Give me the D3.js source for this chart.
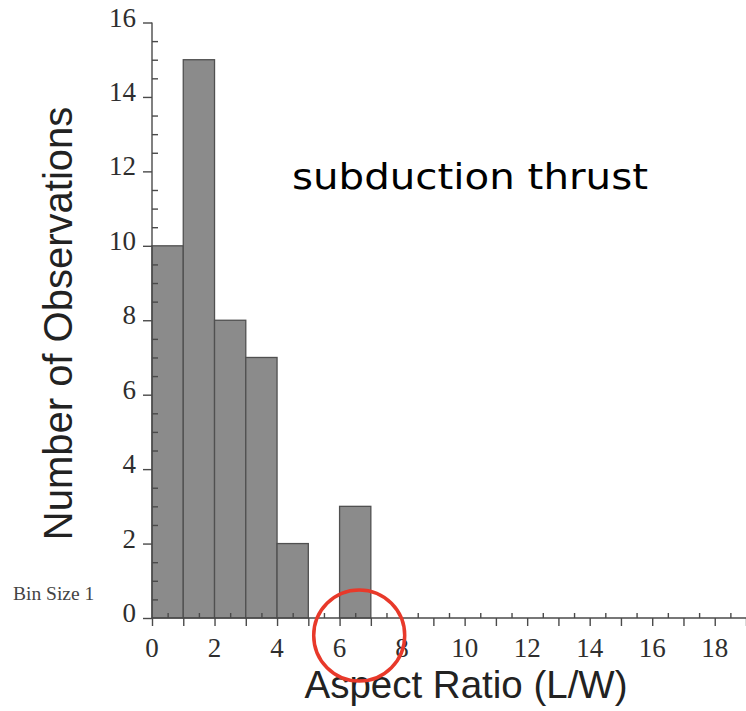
<!DOCTYPE html>
<html>
<head>
<meta charset="utf-8">
<script src="https://cdn.jsdelivr.net/npm/d3@7"></script>
<style>
  html, body { margin: 0; padding: 0; background: #fff; }
  svg { display: block; }
</style>
</head>
<body>
<svg id="chart" width="746" height="711"></svg>
<script>
// Histogram of rupture aspect ratios, bin width 1
const binStarts = [0, 1, 2, 3, 4, 5, 6];
const counts    = [10, 15, 8, 7, 2, 0, 3];
const xTickLabels = [0, 2, 4, 6, 8, 10, 12, 14, 16, 18];
const yTickLabels = [0, 2, 4, 6, 8, 10, 12, 14, 16];
const binSize = 1;

const svg = d3.select("#chart");

const x = d3.scaleLinear().domain([0, 19]).range([152, 746]);
const y = d3.scaleLinear().domain([0, 16]).range([618, 22.5]);

const axisColor = "#4a4a4a";
const labelColor = "#2e2e2e";

// bars
svg.append("g")
  .selectAll("rect")
  .data(binStarts.map((b, i) => ({ b, c: counts[i] })).filter(d => d.c > 0))
  .join("rect")
  .attr("x", d => x(d.b))
  .attr("width", d => x(d.b + binSize) - x(d.b))
  .attr("y", d => y(d.c))
  .attr("height", d => y(0) - y(d.c))
  .attr("fill", "#8b8b8b")
  .attr("stroke", "#505050")
  .attr("stroke-width", 1.3);

// x axis: outward ticks on integers, inward ticks on half steps
const xMajor = d3.range(0, 20, 1);
const xMinor = d3.range(0.5, 19, 1);
const xAxis = svg.append("g").attr("transform", `translate(0,${y(0)})`);
xAxis.call(d3.axisBottom(x).tickValues(xMajor).tickSize(8).tickFormat(""))
  .call(g => g.select(".domain").remove());
xAxis.append("g").call(d3.axisTop(x).tickValues(xMinor).tickSize(5).tickFormat(""))
  .call(g => g.select(".domain").remove());
xAxis.append("line")
  .attr("x1", x(0)).attr("x2", 746)
  .attr("y1", 0).attr("y2", 0);
xAxis.selectAll("line").attr("stroke", axisColor).attr("stroke-width", 1.4);

xAxis.append("g").selectAll("text")
  .data(xTickLabels)
  .join("text")
  .attr("x", d => x(d))
  .attr("y", 39)
  .attr("text-anchor", "middle")
  .attr("font-family", "'Liberation Serif', 'Times New Roman', serif")
  .attr("font-size", 27)
  .attr("fill", labelColor)
  .text(d => d);

// y axis: outward ticks on even values, inward ticks every half unit
const yMinor = d3.range(0.5, 16, 0.5).filter(v => v % 2 !== 0);
const yAxis = svg.append("g").attr("transform", `translate(${x(0)},0)`);
yAxis.call(d3.axisLeft(y).tickValues(yTickLabels).tickSize(9).tickFormat(""))
  .call(g => g.select(".domain").remove());
yAxis.append("g").call(d3.axisRight(y).tickValues(yMinor).tickSize(6).tickFormat(""))
  .call(g => g.select(".domain").remove());
yAxis.append("line")
  .attr("x1", 0).attr("x2", 0)
  .attr("y1", y(16)).attr("y2", y(0));
yAxis.selectAll("line").attr("stroke", axisColor).attr("stroke-width", 1.4);

yAxis.append("g").selectAll("text")
  .data(yTickLabels)
  .join("text")
  .attr("x", -16)
  .attr("y", d => y(d) + 4)
  .attr("text-anchor", "end")
  .attr("font-family", "'Liberation Serif', 'Times New Roman', serif")
  .attr("font-size", 27)
  .attr("fill", labelColor)
  .text(d => d);

// axis titles
svg.append("text")
  .attr("x", 466).attr("y", 698)
  .attr("text-anchor", "middle")
  .attr("font-family", "'Liberation Sans', Arial, sans-serif")
  .attr("font-size", 38.5)
  .attr("fill", "#222")
  .text("Aspect Ratio (L/W)");

svg.append("text")
  .attr("transform", "translate(72,323.5) rotate(-90)")
  .attr("text-anchor", "middle")
  .attr("font-family", "'Liberation Sans', Arial, sans-serif")
  .attr("font-size", 40)
  .attr("fill", "#222")
  .text("Number of Observations");

svg.append("text")
  .attr("x", 13).attr("y", 600)
  .attr("font-family", "'Liberation Serif', 'Times New Roman', serif")
  .attr("font-size", 19.5)
  .attr("fill", "#444")
  .text("Bin Size 1");

// annotation
svg.append("text")
  .attr("x", 292).attr("y", 189)
  .attr("font-family", "'DejaVu Sans', sans-serif")
  .attr("font-size", 36)
  .attr("textLength", 356)
  .attr("lengthAdjust", "spacingAndGlyphs")
  .attr("fill", "#000")
  .text("subduction thrust");

// highlight around the 6–7 bin
svg.append("circle")
  .attr("cx", (x(6) + x(7)) / 2 + 4)
  .attr("cy", 635.5)
  .attr("r", 45.5)
  .attr("fill", "none")
  .attr("stroke", "#e8392a")
  .attr("stroke-width", 3.5);
</script>
</body>
</html>
